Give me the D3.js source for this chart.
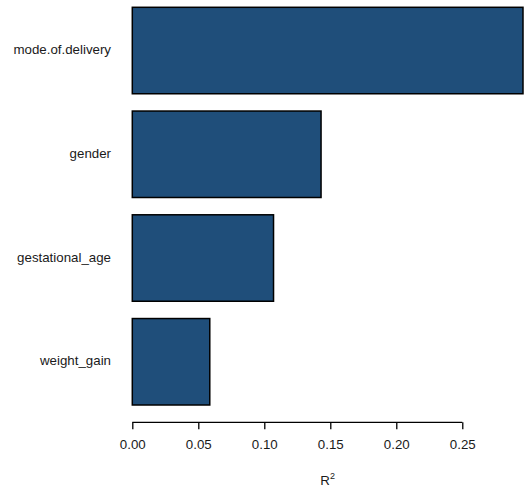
<html>
<head>
<style>
  body { margin: 0; background: #fff; }
  text { font-family: "Liberation Sans", Arial, sans-serif; fill: #1a1a1a; }
</style>
</head>
<body>
<div id="chart"></div>
<script src="https://cdn.jsdelivr.net/npm/d3@7"></script>
<script>
// variables and their R^2
var variables = ["mode.of.delivery", "gender", "gestational_age", "weight_gain"];
var r2 = [0.296, 0.143, 0.107, 0.0587];
var ticks = [0, 0.05, 0.10, 0.15, 0.20, 0.25];

var W = 524, H = 487;
var svg = d3.select("#chart").append("svg")
  .attr("width", W)
  .attr("height", H);

var x = d3.scaleLinear().domain([0, 0.296]).range([132.3, 523]);
var y = d3.scaleBand().domain(variables).range([7.3, 405])
  .paddingInner(0.1667).paddingOuter(0);

// bars
svg.append("g").selectAll("rect")
  .data(variables)
  .enter()
  .append("rect")
  .attr("x", x(0))
  .attr("y", function(d) { return y(d); })
  .attr("width", function(d, i) { return x(r2[i]) - x(0); })
  .attr("height", y.bandwidth())
  .attr("fill", "#1f4e7a")
  .attr("stroke", "#000")
  .attr("stroke-width", 1.5);

// category labels
svg.append("g").selectAll("text")
  .data(variables)
  .enter()
  .append("text")
  .attr("x", 111)
  .attr("y", function(d) { return y(d) + y.bandwidth() / 2; })
  .attr("text-anchor", "end")
  .attr("dominant-baseline", "middle")
  .style("font-size", "13.3px")
  .text(function(d) { return d; });

// x axis
var xAxis = d3.axisBottom(x)
  .tickValues(ticks)
  .tickFormat(d3.format(".2f"))
  .tickSize(7)
  .tickPadding(10)
  .tickSizeOuter(0);

var ax = svg.append("g")
  .attr("transform", "translate(0,422.3)")
  .call(xAxis);
ax.select(".domain")
  .attr("d", "M" + x(0) + ",0H" + x(0.25))
  .attr("stroke", "#000")
  .attr("stroke-width", 1.3);
ax.selectAll(".tick line").attr("stroke", "#000").attr("stroke-width", 1.3);
ax.selectAll(".tick text")
  .attr("fill", "#1a1a1a")
  .style("font-size", "13.3px")
  .style("font-family", "'Liberation Sans', Arial, sans-serif");

// axis title
var title = svg.append("text")
  .attr("x", (x.range()[0] + x.range()[1]) / 2)
  .attr("y", 485)
  .attr("text-anchor", "middle")
  .style("font-size", "13.3px");
title.append("tspan").text("R");
title.append("tspan")
  .attr("dy", -6)
  .style("font-size", "9px")
  .text("2");
</script>
</body>
</html>
